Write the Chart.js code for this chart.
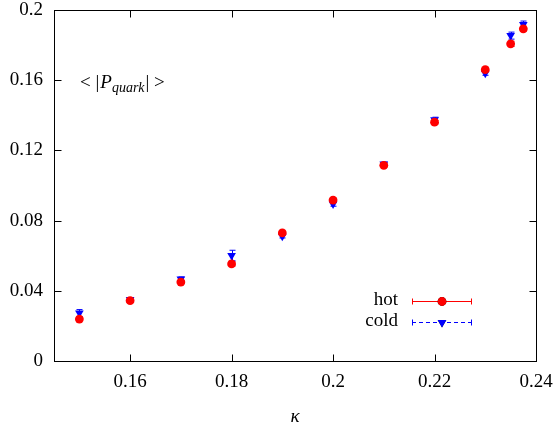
<!DOCTYPE html>
<html><head><meta charset="utf-8">
<style>html,body{margin:0;padding:0;background:#fff}canvas{display:block}</style>
<script src="https://cdn.jsdelivr.net/npm/chart.js@4.4.0/dist/chart.umd.min.js"></script>
</head><body>
<canvas id="c" width="556" height="425"></canvas>
<script>
const kappa   = [0.15, 0.16, 0.17, 0.18, 0.19, 0.20, 0.21, 0.22, 0.23, 0.235, 0.2375];
const hot     = [0.0239, 0.0344, 0.0450, 0.0553, 0.0730, 0.0917, 0.1115, 0.1361, 0.1660, 0.1807, 0.1893];
const hotErr  = [0.0012, 0.0010, 0.0010, 0.0012, 0.0012, 0.0012, 0.0010, 0.0010, 0.0010, 0.0015, 0.0015];
const cold    = [0.0273, 0.0350, 0.0467, 0.0601, 0.0711, 0.0894, 0.1123, 0.1374, 0.1640, 0.1854, 0.1917];
const coldErr = [0.0020, 0.0010, 0.0012, 0.0030, 0.0010, 0.0012, 0.0010, 0.0015, 0.0012, 0.0020, 0.0020];
const xTicks  = [0.16, 0.18, 0.20, 0.22, 0.24];
const yTicks  = [0, 0.04, 0.08, 0.12, 0.16, 0.2];
const seriesNames = ['hot', 'cold'];
const errs = [hotErr, coldErr];

const SERIF = '"Liberation Serif", "DejaVu Serif", serif';
const FS = 19;

const decor = {
  id: 'decor',
  beforeDatasetsDraw(chart) {
    const ctx = chart.ctx, xs = chart.scales.x, ys = chart.scales.y;
    chart.data.datasets.forEach((ds, i) => {
      ctx.save();
      ctx.strokeStyle = ds.borderColor;
      ctx.lineWidth = 1;
      ds.data.forEach((p, j) => {
        const e = errs[i][j];
        const px = Math.round(xs.getPixelForValue(p.x)) + 0.5;
        const y1 = ys.getPixelForValue(p.y + e), y2 = ys.getPixelForValue(p.y - e);
        ctx.beginPath();
        ctx.moveTo(px, y1); ctx.lineTo(px, y2);
        ctx.moveTo(px - 3, y1); ctx.lineTo(px + 3, y1);
        ctx.moveTo(px - 3, y2); ctx.lineTo(px + 3, y2);
        ctx.stroke();
      });
      ctx.restore();
    });
  },
  afterDatasetsDraw(chart) {
    const ctx = chart.ctx, a = chart.chartArea, xs = chart.scales.x, ys = chart.scales.y;
    ctx.save();
    ctx.strokeStyle = '#000';
    ctx.lineWidth = 1;
    const L = Math.round(a.left) + 0.5, R = Math.round(a.right) + 0.5;
    const T = Math.round(a.top) + 0.5, B = Math.round(a.bottom) + 0.5;
    ctx.strokeRect(L, T, R - L, B - T);
    const tl = 7;
    ctx.beginPath();
    xTicks.forEach(v => {
      const px = Math.round(xs.getPixelForValue(v)) + 0.5;
      ctx.moveTo(px, B); ctx.lineTo(px, B - tl);
      ctx.moveTo(px, T); ctx.lineTo(px, T + tl);
    });
    yTicks.forEach(v => {
      const py = Math.round(ys.getPixelForValue(v)) + 0.5;
      ctx.moveTo(L, py); ctx.lineTo(L + tl, py);
      ctx.moveTo(R, py); ctx.lineTo(R - tl, py);
    });
    ctx.stroke();

    // legend
    const lx0 = 412, lx1 = 472, lxm = 442;
    const rows = [301, 322];
    ctx.font = FS + 'px ' + SERIF;
    ctx.textAlign = 'right';
    ctx.textBaseline = 'middle';
    chart.data.datasets.forEach((ds, i) => {
      const y = rows[i] + 0.5;
      ctx.fillStyle = '#000';
      ctx.fillText(seriesNames[i], 398, y - 1);
      ctx.strokeStyle = ds.borderColor;
      ctx.lineWidth = 1;
      ctx.setLineDash(i === 1 ? [4, 3] : []);
      ctx.beginPath();
      ctx.moveTo(lx0, y); ctx.lineTo(lx1, y);
      ctx.stroke();
      ctx.setLineDash([]);
      ctx.beginPath();
      ctx.moveTo(lx0 + 0.5, y - 3); ctx.lineTo(lx0 + 0.5, y + 3);
      ctx.moveTo(lx1 - 0.5, y - 3); ctx.lineTo(lx1 - 0.5, y + 3);
      ctx.stroke();
      Chart.helpers.drawPoint(ctx, {
        pointStyle: ds.pointStyle, radius: ds.pointRadius, rotation: ds.rotation || 0,
        borderWidth: 0
      }, lxm, y);
      ctx.fillStyle = ds.backgroundColor;
      ctx.fill();
    });

    // annotation  < |P_quark| >
    ctx.fillStyle = '#000';
    ctx.textAlign = 'left';
    ctx.textBaseline = 'alphabetic';
    let x = 80; const by = 88;
    ctx.font = FS + 'px ' + SERIF;
    ctx.fillText('< |', x, by); x += ctx.measureText('< |').width + 1;
    ctx.font = 'italic ' + FS + 'px ' + SERIF;
    ctx.fillText('P', x, by); x += ctx.measureText('P').width;
    ctx.font = 'italic 14px ' + SERIF;
    ctx.fillText('quark', x, by + 4); x += ctx.measureText('quark').width + 1;
    ctx.font = FS + 'px ' + SERIF;
    ctx.fillText('| >', x, by);
    ctx.restore();
  }
};

new Chart(document.getElementById('c'), {
  type: 'scatter',
  data: {
    datasets: [
      {
        label: seriesNames[0],
        data: kappa.map((k, i) => ({ x: k, y: hot[i] })),
        pointStyle: 'circle', pointRadius: 4.4, pointHoverRadius: 4.4,
        backgroundColor: '#ff0000', borderColor: '#ff0000', borderWidth: 0
      },
      {
        label: seriesNames[1],
        data: kappa.map((k, i) => ({ x: k, y: cold[i] })),
        pointStyle: 'triangle', rotation: 180, pointRadius: 5, pointHoverRadius: 5,
        backgroundColor: '#0000ff', borderColor: '#0000ff', borderWidth: 0
      }
    ]
  },
  options: {
    responsive: false,
    animation: false,
    layout: { padding: { left: 0, right: 20, top: 10, bottom: 0 } },
    plugins: { legend: { display: false }, tooltip: { enabled: false } },
    scales: {
      x: {
        type: 'linear', min: 0.145, max: 0.24,
        afterBuildTicks: s => { s.ticks = xTicks.map(v => ({ value: v })); },
        afterFit: s => { s.height = 64; s.paddingLeft = 0; s.paddingRight = 0; },
        grid: { display: false, drawTicks: false },
        border: { display: false },
        ticks: { padding: 10, color: '#000', font: { family: SERIF, size: FS },
                 maxRotation: 0, autoSkip: false, callback: v => String(+v.toFixed(4)) },
        title: { display: true, text: 'κ', color: '#000',
                 font: { family: SERIF, size: FS, style: 'italic' }, padding: { top: 0, bottom: -3 } }
      },
      y: {
        type: 'linear', min: 0, max: 0.2,
        afterBuildTicks: s => { s.ticks = yTicks.map(v => ({ value: v })); },
        afterFit: s => { s.width = 54; s.paddingTop = 0; s.paddingBottom = 0; },
        grid: { display: false, drawTicks: false },
        border: { display: false },
        ticks: { padding: 11, color: '#000', font: { family: SERIF, size: FS },
                 autoSkip: false, callback: v => String(+v.toFixed(4)) }
      }
    }
  },
  plugins: [decor]
});
</script>
</body></html>
